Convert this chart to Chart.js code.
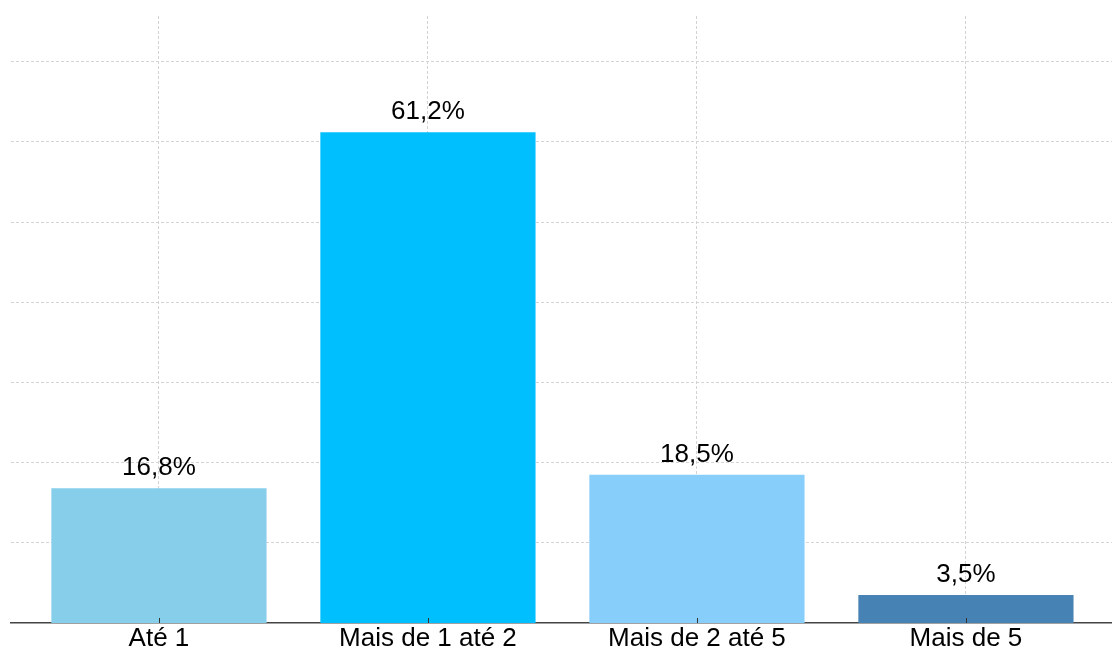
<!DOCTYPE html>
<html>
<head>
<meta charset="utf-8">
<script src="https://cdn.jsdelivr.net/npm/chart.js@4/dist/chart.umd.min.js"></script>
<style>
  body { margin: 0; background: #fff; }
  #wrap { width: 1112px; height: 655px; }
</style>
</head>
<body>
<div id="wrap"><canvas id="rendaChart" width="1112" height="655"></canvas></div>
<script>
const categories = ['Até 1', 'Mais de 1 até 2', 'Mais de 2 até 5', 'Mais de 5'];
const percentages = [16.8, 61.2, 18.5, 3.5];
const barColors = ['#87CEEB', '#00BFFF', '#87CEFA', '#4682B4'];
const yTicks = [10, 20, 30, 40, 50, 60, 70];

const FONT = 'Arial, "Liberation Sans", sans-serif';

// writes the percentage above each bar, plus the little tick marks on the axis
const valueLabels = {
  id: 'valueLabels',
  afterDatasetsDraw(chart) {
    const ctx = chart.ctx;
    const meta = chart.getDatasetMeta(0);
    const base = chart.chartArea.bottom;
    ctx.save();
    ctx.font = '26px ' + FONT;
    ctx.fillStyle = '#000';
    ctx.textAlign = 'center';
    ctx.textBaseline = 'alphabetic';
    meta.data.forEach((bar, i) => {
      const txt = percentages[i].toFixed(1).replace('.', ',') + '%';
      ctx.fillText(txt, bar.x, bar.y - 13);
    });
    ctx.strokeStyle = '#333';
    ctx.lineWidth = 1;
    meta.data.forEach(bar => {
      ctx.beginPath();
      ctx.moveTo(Math.round(bar.x) + 0.5, base - 5);
      ctx.lineTo(Math.round(bar.x) + 0.5, base);
      ctx.stroke();
    });
    ctx.restore();
  }
};

const ctx = document.getElementById('rendaChart').getContext('2d');
new Chart(ctx, {
  type: 'bar',
  data: {
    datasets: [{
      data: percentages.map((v, i) => ({ x: i, y: v })),
      backgroundColor: barColors,
      borderWidth: 0,
      barPercentage: 0.8,
      categoryPercentage: 1
    }]
  },
  options: {
    responsive: false,
    animation: false,
    layout: { padding: { left: 11, right: 0, top: 16, bottom: 0 } },
    plugins: {
      legend: { display: false },
      tooltip: { enabled: false }
    },
    scales: {
      x: {
        type: 'linear',
        min: -0.55,
        max: 3.543,
        offset: false,
        z: 1,
        afterBuildTicks: axis => {
          axis.ticks = categories.map((_, i) => ({ value: i }));
        },
        ticks: {
          callback: v => categories[v],
          font: { size: 26, family: FONT, lineHeight: 1.0 },
          color: '#000',
          padding: 3,
          maxRotation: 0,
          autoSkip: false
        },
        grid: {
          offset: false,
          color: 'rgba(200,200,200,0.8)',
          lineWidth: 1,
          drawTicks: false
        },
        border: { display: true, color: '#444', width: 1.5, dash: [3, 2] }
      },
      y: {
        min: 0,
        max: 75.7,
        afterBuildTicks: axis => {
          axis.ticks = yTicks.map(v => ({ value: v }));
        },
        ticks: { display: false },
        grid: {
          color: '#d4d4d4',
          lineWidth: 1,
          drawTicks: false
        },
        border: { display: false, dash: [3, 2] }
      }
    }
  },
  plugins: [valueLabels]
});
</script>
</body>
</html>
